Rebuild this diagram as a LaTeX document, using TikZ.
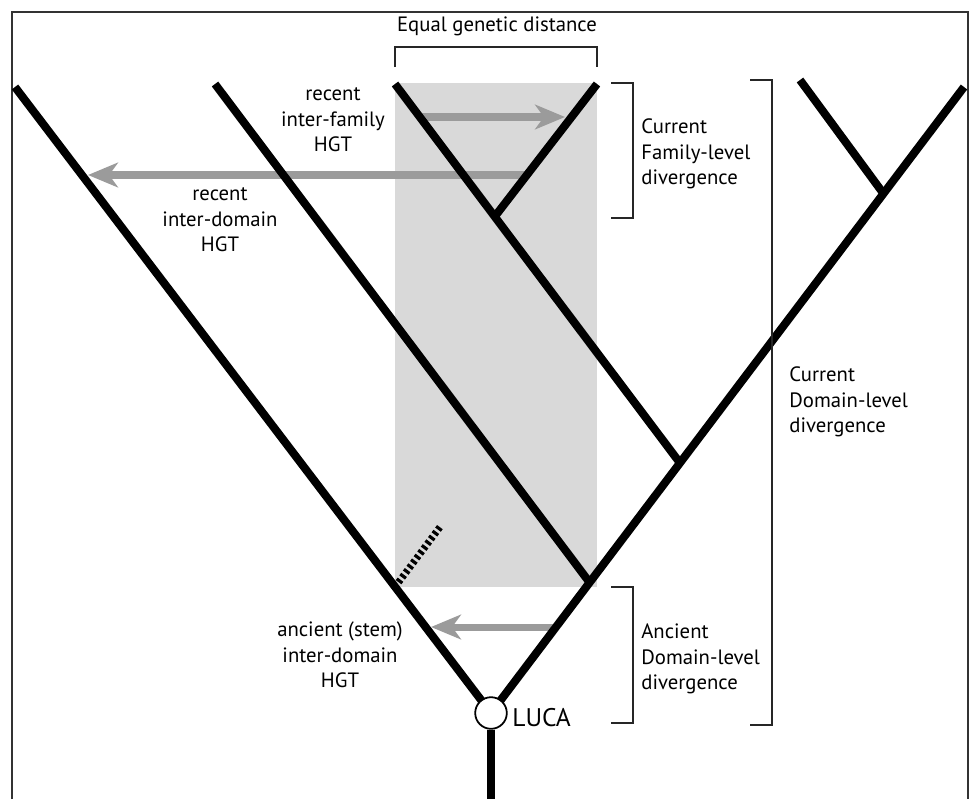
\documentclass[tikz,border=0pt]{standalone}
\usepackage{fontspec}
\setmainfont{PT Sans}
\usetikzlibrary{arrows.meta}
\definecolor{cgray}{RGB}{155,155,155}
\definecolor{cshade}{RGB}{217,217,217}

\begin{document}
\begin{tikzpicture}[x=0.02cm, y=-0.02cm,
      branch/.style={line width=4.6pt, black},
      hgt/.style={-{Stealth[length=17pt, width=14pt, inset=5pt]}, line width=4pt, cgray},
      bracket/.style={line width=1.1pt, black!85},
      lbl/.style={font=\fontsize{11.8}{14.6}\selectfont, align=center, inner sep=0pt},
      lbll/.style={lbl, align=left, anchor=west},
      lucanode/.style={circle, draw, line width=1pt, fill=white, minimum size=18pt, inner sep=0pt}
    ]
    \useasboundingbox (0,0) rectangle (970,799);
    % frame
    \draw[line width=0.8pt, black!80] (12,799) -- (12,12) -- (968,12) -- (968,799);
    % equal distance window
    \fill[cshade] (395,83) rectangle (597,587);
    \node[lbl] (eqlbl) at (497,26) {Equal genetic distance};
    \draw[bracket] (395,67) -- (395,47) -- (597,47) -- (597,67);

    % tree points
    \coordinate (root) at (491,713);
    \coordinate (tL) at (15,87);
    \coordinate (tR) at (964,87);
    \coordinate (tA) at (215,84);
    \coordinate (jA) at (590,583);
    \coordinate (tB) at (395,84);
    \coordinate (jB) at (680,463);
    \coordinate (jD) at (496,215);
    \coordinate (tD) at (597,84);
    \coordinate (tC) at (800,80);
    \coordinate (jC) at (883,193);

    % HGT arrows
    \coordinate (famS) at (421,117);
    \coordinate (famE) at (565,117);
    \coordinate (domS) at (527,175);
    \coordinate (domE) at (88,175);
    \coordinate (stemS) at (557,627);
    \coordinate (stemE) at (431,627);
    \draw[hgt] (famS) -- (famE);
    \draw[hgt] (domS) -- (domE);
    \draw[hgt] (stemS) -- (stemE);

    % ancient stem lineage (dashed)
    \coordinate (stL) at (395,587);
    \coordinate (stE) at (440,527);
    \draw[line width=4pt, dash pattern=on 1.8pt off 1.6pt] (stL) -- (stE);

    % branches
    \draw[branch] (tL) -- (root) -- (tR);
    \draw[branch] (tA) -- (jA);
    \draw[branch] (tB) -- (jB);
    \draw[branch] (jD) -- (tD);
    \draw[branch] (tC) -- (jC);
    \node[lucanode] (luca) at (root) {};
    \draw[branch] (luca.south) -- (491,799);
    \node[lbl, anchor=west, font=\fontsize{14.5}{16}\selectfont] (lucalbl) at (512,718) {LUCA};

    % HGT labels
    \node[lbl] (famhgt) at (333,120) {recent\\inter-family\\HGT};
    \node[lbl] (domhgt) at (220,220) {recent\\inter-domain\\HGT};
    \node[lbl] (stemhgt) at (340,655) {ancient (stem)\\inter-domain\\HGT};

    % divergence brackets
    \draw[bracket] (611,83) -- (633,83) -- (633,218) -- (611,218);
    \node[lbll] (famdiv) at (641,154) {Current\\Family-level\\divergence};
    \draw[bracket] (750,80) -- (772,80) -- (772,725) -- (750,725);
    \node[lbll] (domdiv) at (789,402) {Current\\Domain-level\\divergence};
    \draw[bracket] (611,587) -- (633,587) -- (633,723) -- (611,723);
    \node[lbll] (ancdiv) at (641,659) {Ancient\\Domain-level\\divergence};
  \end{tikzpicture}
\end{document}
